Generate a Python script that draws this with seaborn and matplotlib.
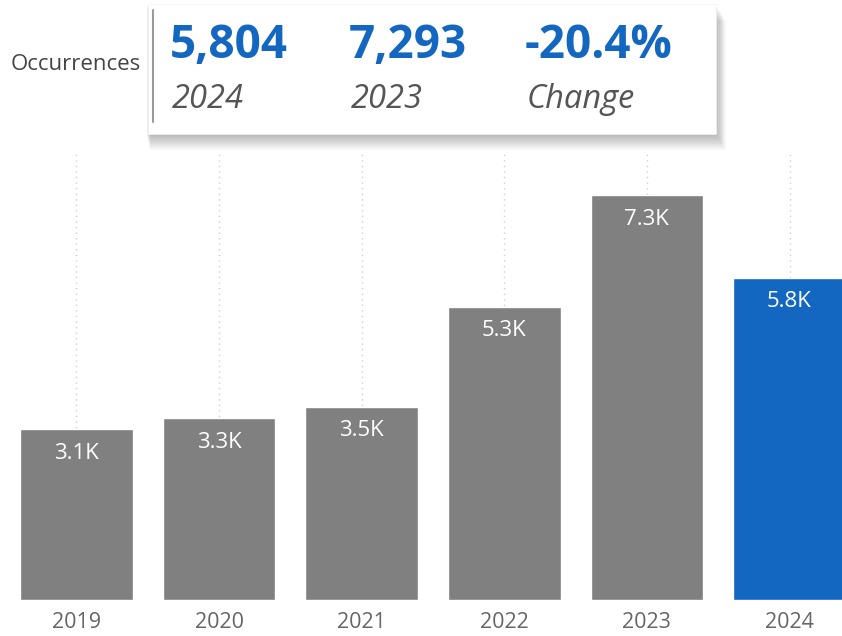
import matplotlib
matplotlib.use("Agg")
import matplotlib.pyplot as plt
import seaborn as sns
import pandas as pd
from matplotlib.patches import Rectangle

years = ["2019", "2020", "2021", "2022", "2023", "2024"]
occurrences = [3080, 3280, 3480, 5280, 7293, 5804]
bar_labels = ["3.1K", "3.3K", "3.5K", "5.3K", "7.3K", "5.8K"]
card_values = ["5,804", "7,293", "-20.4%"]
card_captions = ["2024", "2023", "Change"]
card_title = "Occurrences"

GREY = "#808080"
BLUE = "#1467C0"
FONT = "Open Sans"

sns.set_theme(style="white")
plt.rcParams["font.family"] = [FONT, "DejaVu Sans"]

W, H = 842, 636
fig = plt.figure(figsize=(W / 100, H / 100), dpi=100)
fig.patch.set_facecolor("white")

# axes from pixel y=150 to y=600
ax = fig.add_axes([0, (H - 600) / H, 1, (600 - 150) / H])
df = pd.DataFrame({"year": years, "value": occurrences})
palette = {y: (BLUE if y == "2024" else GREY) for y in years}
sns.barplot(data=df, x="year", y="value", hue="year", palette=palette,
            width=0.79, saturation=1, legend=False, ax=ax, zorder=3)
ax.set_xlim(-0.536, 5.368)
ax.set_ylim(0, 8100)
ax.set_xlabel("")
ax.set_ylabel("")
ax.set_yticks([])
for s in ax.spines.values():
    s.set_visible(False)
ax.set_facecolor("none")
ax.grid(axis="x", linestyle=(0, (1, 3)), color="#d0d0d0", linewidth=1.0, zorder=0)
ax.set_axisbelow(True)
ax.tick_params(axis="x", length=0, pad=9, labelsize=15.5, labelcolor="#666666")

for i, (v, lab) in enumerate(zip(occurrences, bar_labels)):
    ax.annotate(lab, xy=(i, v), xytext=(0, -17.5), textcoords="offset points",
                ha="center", va="center", fontsize=16, color="white", zorder=5)

# Card with shadow
def fx(x):
    return x / W

def fy(y):
    return (H - y) / H

card_l, card_r, card_t, card_b = 148, 716, 4, 134
for k in range(8):
    off = k + 1
    sh = Rectangle((fx(card_l - 2 + off * 0.5), fy(card_b + off * 2.0)),
                   fx(card_r - card_l + 2 + off * 0.7), (card_b - card_t) / H,
                   transform=fig.transFigure, facecolor="black", alpha=0.035,
                   edgecolor="none", zorder=1)
    fig.patches.append(sh)
card = Rectangle((fx(card_l), fy(card_b)), fx(card_r - card_l), (card_b - card_t) / H,
                 transform=fig.transFigure, facecolor="white", edgecolor="#f0f0f0",
                 linewidth=0.5, zorder=2)
fig.patches.append(card)
fig.add_artist(plt.Line2D([fx(153), fx(153)], [fy(10), fy(122)],
                          transform=fig.transFigure, color="#9a9a9a", linewidth=1.5, zorder=3))

fig.text(fx(11), fy(64), card_title, ha="left", va="center", fontsize=16,
         color="#444444", zorder=4)
xs = [172, 351, 527]
for x, val, cap in zip(xs, card_values, card_captions):
    fig.text(fx(x - 2), fy(45), val, ha="left", va="center", fontsize=33,
             fontweight="bold", color=BLUE, zorder=4)
    fig.text(fx(x), fy(100), cap, ha="left", va="center", fontsize=23.5,
             fontstyle="italic", color="#555555", zorder=4)

fig.savefig("out.png", dpi=100, facecolor="white")
